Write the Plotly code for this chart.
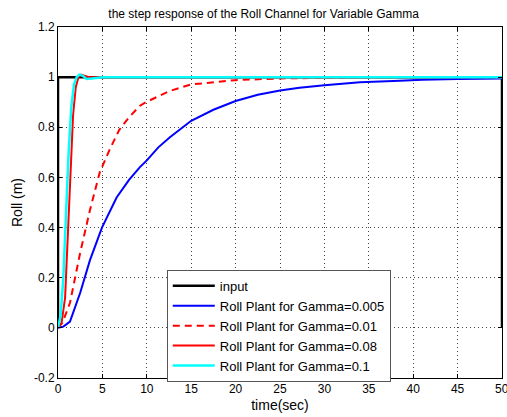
import plotly.graph_objects as go

# ---- data ----
t_input = [0, 0, 50, 50]
y_input = [0, 1, 1, 0]

t_g005 = [0, 0.6, 1.35, 2.5, 3.6, 4.95, 6.6, 8.0, 9.2, 10.0, 11.3, 12.6, 15, 17.5, 20, 22.5, 25, 27.2, 30, 34, 38.5, 41, 45, 50]
y_g005 = [0, 0.005, 0.025, 0.14, 0.27, 0.40, 0.52, 0.59, 0.64, 0.668, 0.72, 0.76, 0.826, 0.87, 0.905, 0.93, 0.947, 0.958, 0.968, 0.98, 0.986, 0.99, 0.993, 0.995]

t_g01 = [0, 0.5, 1.35, 2.5, 3.6, 4.7, 5.8, 6.9, 8.0, 9.2, 10.0, 12.6, 15, 17.5, 20, 25, 30, 35, 40, 50]
y_g01 = [0, 0.02, 0.10, 0.30, 0.47, 0.62, 0.71, 0.79, 0.84, 0.885, 0.902, 0.945, 0.971, 0.981, 0.988, 0.995, 0.998, 0.999, 1.0, 1.0]

t_g08 = [0, 0.4, 0.8, 1.1, 1.4, 1.7, 2.0, 2.3, 2.6, 3.0, 3.5, 5, 50]
y_g08 = [0, 0.02, 0.12, 0.35, 0.60, 0.85, 0.96, 1.0, 1.01, 1.005, 1.0, 1.0, 1.0]

t_g1 = [0, 0.3, 0.6, 0.9, 1.2, 1.5, 1.8, 2.1, 2.4, 2.8, 3.2, 3.8, 5, 50]
y_g1 = [0, 0.05, 0.20, 0.45, 0.70, 0.88, 0.97, 1.0, 1.01, 1.005, 0.993, 0.995, 1.0, 1.0]

x_ticks = [0, 5, 10, 15, 20, 25, 30, 35, 40, 45, 50]
y_ticks = [-0.2, 0, 0.2, 0.4, 0.6, 0.8, 1, 1.2]
y_tick_labels = ["-0.2", "0", "0.2", "0.4", "0.6", "0.8", "1", "1.2"]

fig = go.Figure()
fig.add_trace(go.Scatter(x=t_input, y=y_input, mode="lines", name="input",
                         line=dict(color="black", width=2.5)))
fig.add_trace(go.Scatter(x=t_g005, y=y_g005, mode="lines", name="Roll Plant for Gamma=0.005",
                         line=dict(color="#0000ff", width=2)))
fig.add_trace(go.Scatter(x=t_g01, y=y_g01, mode="lines", name="Roll Plant for Gamma=0.01",
                         line=dict(color="#ff0000", width=2, dash="7px,5px")))
fig.add_trace(go.Scatter(x=t_g08, y=y_g08, mode="lines", name="Roll Plant for Gamma=0.08",
                         line=dict(color="#ff0000", width=2)))
fig.add_trace(go.Scatter(x=t_g1, y=y_g1, mode="lines", name="Roll Plant for Gamma=0.1",
                         line=dict(color="#00ffff", width=2.5)))

font = dict(family="Liberation Sans, Arial, sans-serif", size=12, color="black")

axis_common = dict(showline=True, linecolor="black", linewidth=1, mirror="allticks",
                   ticks="inside", ticklen=4, tickcolor="black",
                   showgrid=True, gridcolor="#444444", griddash="1px,3px", gridwidth=1,
                   zeroline=False, tickfont=font, automargin=False)

fig.update_layout(
    width=507, height=417,
    margin=dict(l=58, r=5, t=27, b=39, autoexpand=False),
    paper_bgcolor="white", plot_bgcolor="white",
    font=font,
    title=dict(text="the step response of the Roll Channel for Variable Gamma",
               x=0.52, xanchor="center", y=0.968, yanchor="middle",
               font=dict(size=12, family=font["family"]), automargin=False),
    xaxis=dict(range=[0, 50], tickvals=x_ticks, title=dict(text="time(sec)", standoff=4), **axis_common),
    yaxis=dict(range=[-0.2, 1.2], tickvals=y_ticks, ticktext=y_tick_labels,
               title=dict(text="Roll (m)", standoff=8), **axis_common),
    legend=dict(x=0.245, y=0.308, xanchor="left", yanchor="top",
                bgcolor="white", bordercolor="#555555", borderwidth=1,
                font=dict(size=13, family=font["family"]), tracegroupgap=0,
                itemwidth=42),
    showlegend=True,
)

# the last tick label, which sits at the right edge and is partly cut off
fig.add_annotation(x=x_ticks[-1], xref="x", y=0, yref="paper", yanchor="top", yshift=-2,
                   text=str(x_ticks[-1]), showarrow=False, font=font)

fig.write_html("out.html", config={"displayModeBar": False},
               post_script="document.body.style.margin='0px';")
